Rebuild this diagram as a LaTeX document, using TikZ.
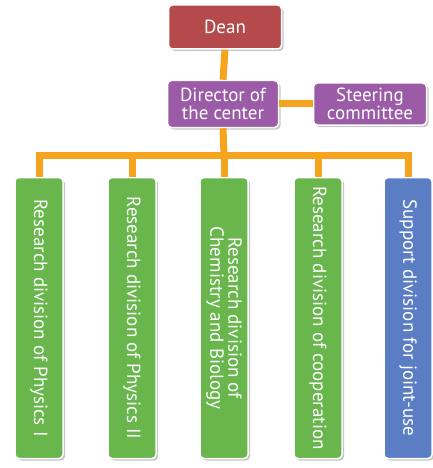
\documentclass[tikz,border=0pt]{standalone}
\usepackage{fontspec}
\setmainfont{PT Sans}
\usetikzlibrary{positioning,shadows}

\definecolor{deanred}{HTML}{B54A4C}
\definecolor{dirpurple}{HTML}{9B5BA7}
\definecolor{divgreen}{HTML}{68B64C}
\definecolor{supblue}{HTML}{5B7DC3}
\definecolor{linkorange}{HTML}{F6A31E}

\begin{document}
\begin{tikzpicture}[x=1pt, y=-1pt,
            every node/.style={draw=white, line width=1.5pt, rounded corners=4pt,
                text=white, font=\fontsize{19}{18}\selectfont,
                drop shadow={shadow xshift=2pt, shadow yshift=-2pt, opacity=0.45}},
            topbox/.style={minimum width=113pt, minimum height=44pt, align=center,
                inner sep=1pt},
            divbox/.style={fill=divgreen, minimum width=281pt, minimum height=48pt,
                rotate=-90, align=center, inner sep=1pt},
            link/.style={draw=linkorange, line width=7pt}]
        \useasboundingbox (0,0) rectangle (432,468);
        % top of the chart
        \node[topbox, fill=deanred] (dean) at (225,27) {Dean};
        \node[topbox, fill=dirpurple, minimum width=111pt, minimum height=47pt] (dir) at (223,104) {Director of\\the center};
        \node[topbox, fill=dirpurple, minimum height=42pt] (steer) at (370,104) {Steering\\committee};
        % divisions
        \node[divbox] (phys1) at (39,318) {Research division of Physics I};
        \node[divbox] (phys2) at (132,318) {Research division of Physics II};
        \node[divbox] (chem) at (224,318) {Research division of\\Chemistry and Biology};
        \node[divbox] (coop) at (318,318) {Research division of cooperation};
        \node[divbox, fill=supblue] (supp) at (408,318) {Support division for joint-use};
        % connectors
        \coordinate (bus) at (224,155);
        \draw[link] (dean.south) -- (dir.north);
        \draw[link] (dir.east) -- (steer.west);
        \draw[link] (dir.south) -- (bus);
        \draw[link, line join=miter] (bus) -| (phys1.west);
        \draw[link] (bus -| phys2.west) -- (phys2.west);
        \draw[link] (bus) -- (chem.west);
        \draw[link] (bus -| coop.west) -- (coop.west);
        \draw[link, line join=miter] (bus) -| (supp.west);
\end{tikzpicture}
\end{document}
